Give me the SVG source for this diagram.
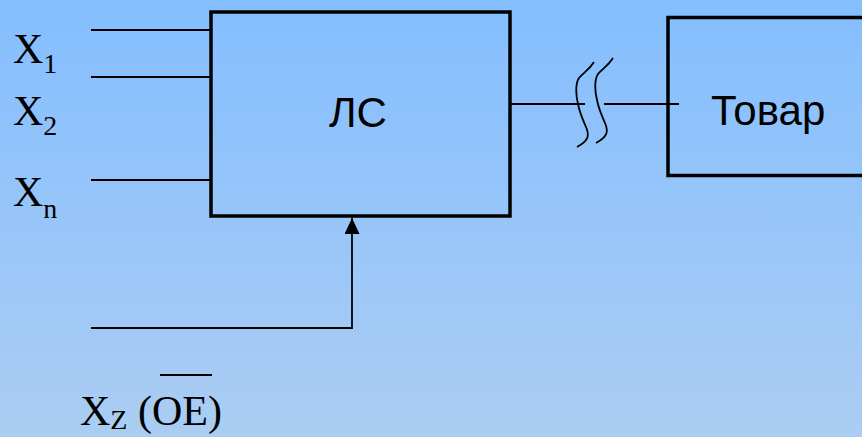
<svg xmlns="http://www.w3.org/2000/svg" width="862" height="437" viewBox="0 0 862 437">
<defs>
<linearGradient id="bg" x1="0" y1="0" x2="0" y2="1">
<stop offset="0" stop-color="#84BEFF"/>
<stop offset="1" stop-color="#ABCDF2"/>
</linearGradient>
<marker id="arr" viewBox="0 0 16 15" refX="16" refY="7.5" markerWidth="16" markerHeight="15" markerUnits="userSpaceOnUse" orient="auto">
<path d="M0,0 L16,7.5 L0,15 Z" fill="#000"/>
</marker>
<style>
.box{fill:none;stroke:#000;stroke-width:3.5}
.ln{fill:none;stroke:#000;stroke-width:1.8}
.lbl{font-family:"Liberation Sans",Arial,sans-serif;font-size:42px;fill:#000}
.tm{font-family:"Liberation Serif","Times New Roman",serif;font-size:42px;fill:#000}
.sub{font-size:28px}
</style>
</defs>
<rect width="862" height="437" fill="url(#bg)"/>
<g id="connectors">
<line class="ln" x1="91" y1="30" x2="211" y2="30"/>
<line class="ln" x1="91" y1="77" x2="211" y2="77"/>
<line class="ln" x1="91" y1="180" x2="211" y2="180"/>
<polyline class="ln" points="91,328 352,328 352,218" stroke-width="2.2" marker-end="url(#arr)"/>
<line class="ln" x1="511" y1="104" x2="585" y2="104" stroke-width="2.2"/>
<line class="ln" x1="604" y1="104" x2="679" y2="104" stroke-width="2.2"/>
<path class="ln" stroke-width="2" d="M594,62 C589,70 584,72 579,78 C575,84 576,96 578,104 C580,114 583,120 586,127 C590,136 588,141 577,147"/>
<path class="ln" stroke-width="2" d="M613,58 C608,66 603,68 598,74 C594,80 595,92 597,100 C599,110 602,116 605,123 C609,132 607,137 596,143"/>
</g>
<g id="node-ls">
<rect class="box" x="211" y="12" width="299" height="204"/>
<text class="lbl" x="358" y="127" text-anchor="middle" font-size="43">ЛС</text>
</g>
<g id="node-tovar">
<rect class="box" x="668" y="17.5" width="210" height="158"/>
<text class="lbl" x="711" y="125" font-size="41.5">Товар</text>
</g>
<g id="labels">
<text class="tm" x="13" y="63">X<tspan class="sub" dy="10">1</tspan></text>
<text class="tm" x="13" y="125">X<tspan class="sub" dy="10">2</tspan></text>
<text class="tm" x="13" y="206">X<tspan class="sub" dy="12">n</tspan></text>
<text class="tm" x="80" y="425" font-size="40">X<tspan class="sub" dy="4">Z</tspan><tspan dy="-4"> (OE)</tspan></text>
<line x1="160" y1="375" x2="212" y2="375" stroke="#000" stroke-width="2"/>
</g>
</svg>
